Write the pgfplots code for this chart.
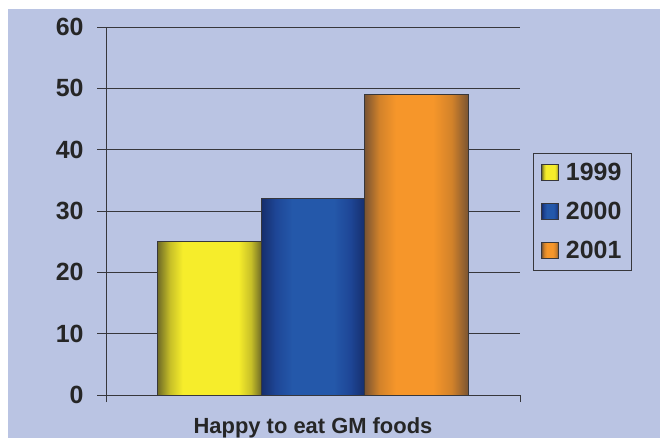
\documentclass[border=0pt]{standalone}
\usepackage{fontspec}
\setmainfont{Liberation Sans}
\usepackage{pgfplots}
\pgfplotsset{compat=1.18}

\definecolor{bg}{RGB}{186,196,227}
\definecolor{gridc}{RGB}{55,55,60}

% bar colours: dark edge, middle tone, bright centre
\definecolor{ydark}{RGB}{112,108,38}
\definecolor{ymid}{RGB}{200,192,40}
\definecolor{ybright}{RGB}{246,237,43}
\definecolor{bdark}{RGB}{22,46,108}
\definecolor{bmid}{RGB}{30,70,150}
\definecolor{bbright}{RGB}{36,88,170}
\definecolor{odark}{RGB}{122,84,50}
\definecolor{omid}{RGB}{210,130,42}
\definecolor{obright}{RGB}{246,150,42}

\pgfdeclarehorizontalshading{yellowbar}{100bp}{color(0bp)=(ydark); color(25bp)=(ydark); color(31bp)=(ymid); color(37bp)=(ybright); color(64bp)=(ybright); color(70bp)=(ymid); color(75bp)=(ydark); color(100bp)=(ydark)}
\pgfdeclarehorizontalshading{bluebar}{100bp}{color(0bp)=(bdark); color(25bp)=(bdark); color(32bp)=(bmid); color(40bp)=(bbright); color(60bp)=(bbright); color(68bp)=(bmid); color(75bp)=(bdark); color(100bp)=(bdark)}
\pgfdeclarehorizontalshading{orangebar}{100bp}{color(0bp)=(odark); color(25bp)=(odark); color(32bp)=(omid); color(40bp)=(obright); color(58bp)=(obright); color(67bp)=(omid); color(75bp)=(odark); color(100bp)=(odark)}

\begin{document}
\begin{tikzpicture}[x=1bp,y=1bp]
\fill[white] (0,0) rectangle (660,438);
\fill[bg] (8,0) rectangle (660,429);
\begin{axis}[
  at={(106bp,43bp)}, anchor=south west,
  scale only axis, width=414bp, height=368bp,
  xmin=0, xmax=1, ymin=0, ymax=60,
  axis x line=bottom, axis y line=left,
  axis line style={-, draw=gridc, line width=0.9bp},
  ybar, bar width=0.25, bar shift=0pt,
  xtick={0,1}, xticklabels={,},
  ytick={0,10,...,60},
  tick align=outside,
  major tick length=9bp,
  xtick style={/pgfplots/major tick length=7bp},
  tick style={draw=gridc, line width=0.9bp},
  ymajorgrids,
  grid style={draw=gridc, line width=0.9bp},
  /pgf/number format/assume math mode=true,
  yticklabel style={font=\bfseries\fontsize{25}{25}\selectfont, anchor=east, xshift=-10bp, text=black!85},
  xlabel={Happy to eat GM foods},
  xlabel style={at={(axis description cs:0.5,-0.1033)}, anchor=base, font=\bfseries\fontsize{22}{22}\selectfont, text=black!85},
  legend style={at={(axis description cs:1.0314,0.6576)}, anchor=north west,
    draw=gridc, line width=0.7bp, fill=none,
    font=\bfseries\fontsize{25}{25}\selectfont, text=black!85,
    row sep=16bp, column sep=5bp, inner xsep=8bp, inner ysep=8bp},
  legend cell align=left,
  legend image code/.code={\draw[#1, draw=gridc, line width=0.6bp] (0bp,-8bp) rectangle (17bp,8bp);},
]
\addplot[shading=yellowbar, draw=gridc, line width=0.8bp] coordinates {(0.25,25)};
\addplot[shading=bluebar, draw=gridc, line width=0.8bp] coordinates {(0.5,32)};
\addplot[shading=orangebar, draw=gridc, line width=0.8bp] coordinates {(0.75,49)};
\legend{1999,2000,2001}
\end{axis}
\end{tikzpicture}
\end{document}
